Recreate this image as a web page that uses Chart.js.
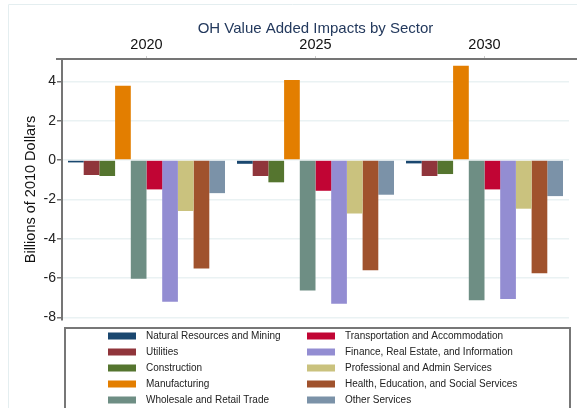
<!DOCTYPE html>
<html>
<head>
<meta charset="utf-8">
<script src="https://cdn.jsdelivr.net/npm/chart.js@4"></script>
<style>
  body { margin: 0; background: #fff; }
  #wrap { width: 577px; height: 408px; }
</style>
</head>
<body>
<div id="wrap"><canvas id="sectorChart" width="577" height="408"></canvas></div>
<script>
// data
var years = ["2020", "2025", "2030"];
var sectors = [
    "Natural Resources and Mining", "Utilities", "Construction", "Manufacturing",
    "Wholesale and Retail Trade", "Transportation and Accommodation",
    "Finance, Real Estate, and Information", "Professional and Admin Services",
    "Health, Education, and Social Services", "Other Services"
];
var natRes = [-0.12, -0.19, -0.17];
var utilities = [-0.76, -0.81, -0.81];
var construction = [-0.81, -1.13, -0.71];
var manufacturing = [3.77, 4.06, 4.79];
var wholesale = [-6.02, -6.62, -7.12];
var transportation = [-1.49, -1.56, -1.49];
var finance = [-7.19, -7.29, -7.06];
var professional = [-2.59, -2.71, -2.47];
var health = [-5.50, -5.60, -5.75];
var otherServices = [-1.68, -1.76, -1.83];
var yTicks = [-8, -6, -4, -2, 0, 2, 4];

var seriesValues = [natRes, utilities, construction, manufacturing, wholesale,
    transportation, finance, professional, health, otherServices];
var colors = ["#1a476f", "#90353b", "#55752f", "#e37e00", "#6e8e84",
    "#c10534", "#938dd2", "#cac27e", "#a0522d", "#7b92a8"];

var FONT = "'Liberation Sans', Arial, sans-serif";

// legend box at the bottom, two columns like the original
var legendBox = {
    id: "legendBox",
    afterDraw: function (chart) {
        var ctx = chart.ctx;
        ctx.save();
        ctx.strokeStyle = "#777";
        ctx.lineWidth = 2;
        ctx.strokeRect(65, 328, 505, 100);
        ctx.font = "10px " + FONT;
        ctx.textBaseline = "middle";
        ctx.fillStyle = "#222";
        chart.data.datasets.forEach(function (ds, i) {
            var col = i < 5 ? 0 : 1;
            var row = i % 5;
            var sx = col === 0 ? 108 : 307;
            var y = 336 + row * 16;
            ctx.fillStyle = ds.backgroundColor;
            ctx.fillRect(sx, y - 3.5, 28, 7);
            ctx.fillStyle = "#222";
            ctx.fillText(ds.label, sx + 38, y);
        });
        // top axis line runs on past the plot
        ctx.strokeStyle = "#757575";
        ctx.beginPath();
        ctx.moveTo(56, 59);
        ctx.lineTo(577, 59);
        ctx.stroke();
        ctx.restore();
    },
    beforeDraw: function (chart) {
        var ctx = chart.ctx;
        ctx.save();
        ctx.strokeStyle = "#e4eef0";
        ctx.lineWidth = 1;
        ctx.beginPath();
        ctx.moveTo(8.5, 408);
        ctx.lineTo(8.5, 4.5);
        ctx.lineTo(577, 4.5);
        ctx.stroke();
        ctx.restore();
    }
};

var ctx = document.getElementById("sectorChart").getContext("2d");
var chart = new Chart(ctx, {
    type: "bar",
    data: {
        labels: years,
        datasets: sectors.map(function (name, i) {
            return {
                label: name,
                data: seriesValues[i],
                backgroundColor: colors[i],
                borderWidth: 0,
                categoryPercentage: 0.929,
                barPercentage: 1.0
            };
        })
    },
    options: {
        responsive: false,
        animation: false,
        layout: { padding: { top: 0, left: 0, right: 8, bottom: 88 } },
        plugins: {
            legend: { display: false },
            tooltip: { enabled: false },
            title: { display: false }
        },
        scales: {
            x: {
                position: "top",
                afterFit: function (scale) { scale.height = 59; },
                border: { color: "#757575", width: 2 },
                grid: {
                    offset: false,
                    drawOnChartArea: false,
                    drawTicks: true,
                    tickLength: 3,
                    tickColor: "#cccccc"
                },
                ticks: {
                    color: "#111",
                    padding: 2,
                    font: { family: FONT, size: 14.5 }
                },
                title: {
                    display: true,
                    text: "OH Value Added Impacts by Sector",
                    color: "#23395d",
                    font: { family: FONT, size: 15 },
                    padding: { top: 20, bottom: 0 }
                }
            },
            y: {
                min: -8.12,
                max: 5.13,
                afterFit: function (scale) { scale.width = 62; },
                afterBuildTicks: function (scale) {
                    scale.ticks = yTicks.map(function (v) { return { value: v }; });
                },
                border: { color: "#757575", width: 2 },
                grid: {
                    color: "#eaf2f3",
                    lineWidth: 1.5,
                    tickColor: "#757575",
                    tickWidth: 1.5,
                    tickLength: 5
                },
                ticks: {
                    color: "#222",
                    padding: 1,
                    font: { family: FONT, size: 14 }
                },
                title: {
                    display: true,
                    text: "Billions of 2010 Dollars",
                    color: "#111",
                    font: { family: FONT, size: 14.5 },
                    padding: { top: 22, bottom: 0 }
                }
            }
        }
    },
    plugins: [legendBox]
});
</script>
</body>
</html>
